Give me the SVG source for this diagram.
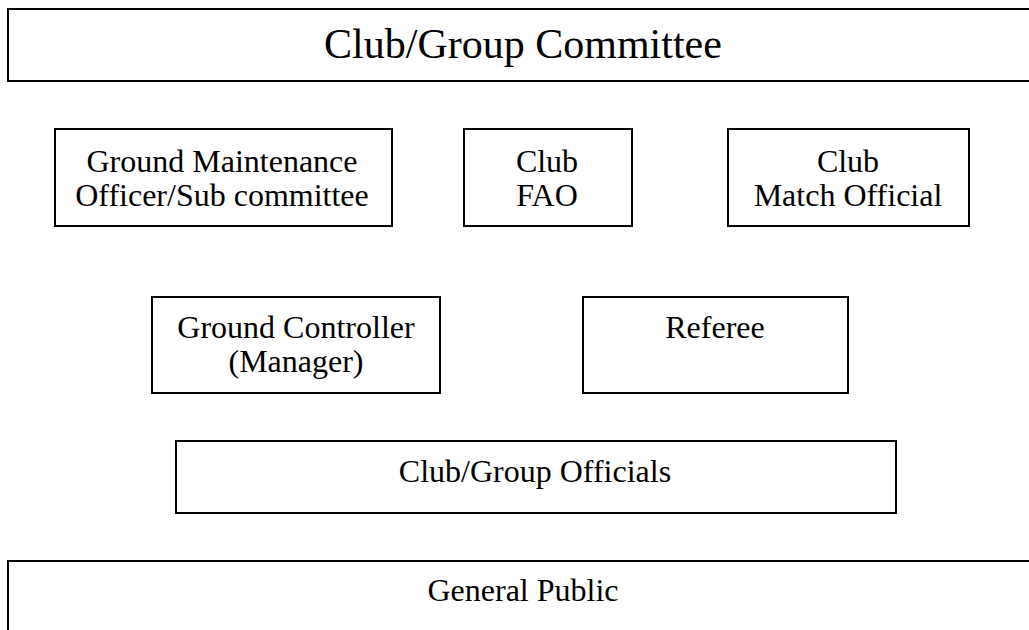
<svg xmlns="http://www.w3.org/2000/svg" width="1029" height="630" viewBox="0 0 1029 630">
<style>
.box{fill:#fff;stroke:#000;stroke-width:2}
.t{font-family:"Liberation Serif","Times New Roman",serif;font-size:32px;fill:#000;text-anchor:middle}
.big{font-size:42px}
</style>
<rect width="1029" height="630" fill="#fff"/>
<g id="committee"><rect class="box" x="8" y="9" width="1040" height="72"/><text class="t big" x="523" y="58">Club/Group Committee</text></g>
<g id="ground-maintenance"><rect class="box" x="55" y="129" width="337" height="97"/><text class="t" x="222" y="172">Ground Maintenance</text><text class="t" x="222" y="206">Officer/Sub committee</text></g>
<g id="club-fao"><rect class="box" x="464" y="129" width="168" height="97"/><text class="t" x="547" y="172">Club</text><text class="t" x="547" y="206">FAO</text></g>
<g id="match-official"><rect class="box" x="728" y="129" width="241" height="97"/><text class="t" x="848" y="172">Club</text><text class="t" x="848" y="206">Match Official</text></g>
<g id="ground-controller"><rect class="box" x="152" y="297" width="288" height="96"/><text class="t" x="296" y="338">Ground Controller</text><text class="t" x="296" y="372">(Manager)</text></g>
<g id="referee"><rect class="box" x="583" y="297" width="265" height="96"/><text class="t" x="715" y="338">Referee</text></g>
<g id="officials"><rect class="box" x="176" y="441" width="720" height="72"/><text class="t" x="535" y="482">Club/Group Officials</text></g>
<g id="public"><rect class="box" x="8" y="561" width="1040" height="100"/><text class="t" x="523" y="601">General Public</text></g>
<g id="connectors"></g>
</svg>
